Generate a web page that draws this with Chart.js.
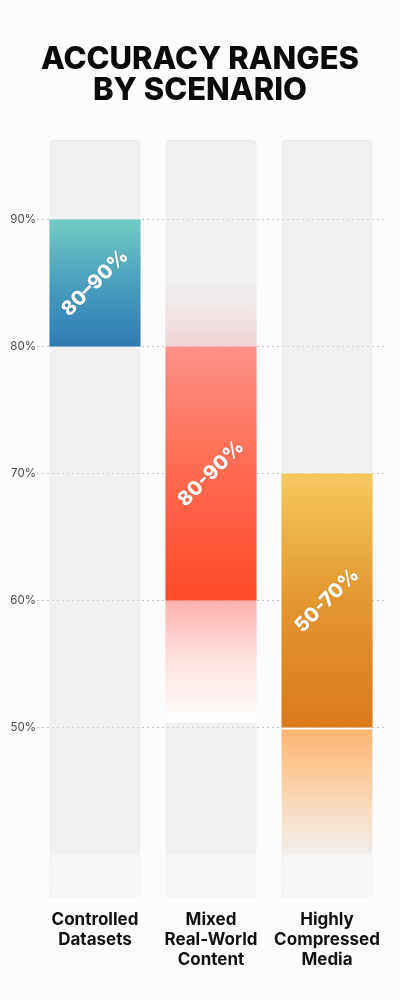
<!DOCTYPE html>
<html>
<head>
<meta charset="utf-8">
<script src="https://cdn.jsdelivr.net/npm/chart.js@4"></script>
<style>
  html, body { margin: 0; padding: 0; background: #fcfcfc; }
  #wrap { width: 400px; height: 1000px; position: relative; }
</style>
</head>
<body>
<div id="wrap"><canvas id="rangeChart"></canvas></div>
<script>
// Categories and values
const categories = [['Controlled', 'Datasets'], ['Mixed', 'Real-World', 'Content'], ['Highly', 'Compressed', 'Media']];
const rangeLow = [80, 60, 50];
const rangeHigh = [90, 80, 70];
const rangeLabels = ['80–90%', '80-90%', '50-70%'];
const upperFadeLow = [null, 80, null];
const upperFadeHigh = [null, 85, null];
const lowerFadeLow = [null, 50.4, 40];
const lowerFadeHigh = [null, 60, 50];
const yTicks = [50, 60, 70, 80, 90];
const yMin = 36.6;
const yMax = 96.25;
const floorTop = 40;

// Gradient stops per category (top -> bottom)
const mainColors = [
    ['#72cbc7', '#4a9fbd', '#2e7bb5'],
    ['#ff918a', '#ff6a4f', '#ff4a28'],
    ['#f5c960', '#e4962f', '#da7a1e']
];
const upperFadeColors = [null, ['rgba(238,208,208,0.1)', 'rgba(236,192,192,0.6)'], null];
const lowerFadeColors = [null, ['#ffb2ad', '#ffe2e0', '#ffffff'], ['#fdb46e', '#fbd3ad', '#f1efee']];
const lowerFadeGap = [0, 0, 2];

const FONT = 'Inter, "Noto Sans", sans-serif';

function gradientFor(stops) {
    return (ctx) => {
        const chart = ctx.chart;
        const colors = stops[ctx.dataIndex];
        const raw = ctx.raw;
        if (!chart.chartArea || !colors || !raw) return 'transparent';
        const y = chart.scales.y;
        const top = y.getPixelForValue(raw[1]);
        const bottom = y.getPixelForValue(raw[0]);
        const g = chart.ctx.createLinearGradient(0, top, 0, bottom);
        colors.forEach((c, i) => g.addColorStop(i / (colors.length - 1), c));
        return g;
    };
}

const pair = (lo, hi) => lo.map((v, i) => (v === null ? null : [v, hi[i]]));

const barShape = { grouped: false, categoryPercentage: 1, barPercentage: 0.785 };

// Rotated range labels drawn on the main bars
const rangeLabelPlugin = {
    id: 'rangeLabels',
    afterDatasetsDraw(chart) {
        const meta = chart.getDatasetMeta(0);
        const ctx = chart.ctx;
        meta.data.forEach((bar, i) => {
            const cy = (bar.y + bar.base) / 2;
            ctx.save();
            ctx.translate(bar.x, cy);
            ctx.rotate(-Math.PI / 4);
            ctx.font = '800 20px ' + FONT;
            ctx.fillStyle = '#ffffff';
            ctx.textAlign = 'center';
            ctx.textBaseline = 'middle';
            ctx.shadowColor = 'rgba(0,0,0,0.15)';
            ctx.shadowBlur = 2;
            ctx.fillText(rangeLabels[i], 0, 0);
            ctx.restore();
        });
    }
};

new Chart(document.getElementById('rangeChart'), {
    type: 'bar',
    data: {
        labels: categories,
        datasets: [
            {
                label: 'Accuracy range',
                data: pair(rangeLow, rangeHigh),
                backgroundColor: gradientFor(mainColors),
                borderWidth: 0,
                order: 1,
                ...barShape
            },
            {
                label: 'Upper fade',
                data: pair(upperFadeLow, upperFadeHigh),
                backgroundColor: gradientFor(upperFadeColors),
                borderWidth: 0,
                order: 2,
                ...barShape
            },
            {
                label: 'Lower fade',
                data: pair(lowerFadeLow, lowerFadeHigh),
                backgroundColor: gradientFor(lowerFadeColors),
                borderColor: '#ffffff',
                borderWidth: (ctx) => ({ top: lowerFadeGap[ctx.dataIndex], bottom: 0, left: 0, right: 0 }),
                borderSkipped: false,
                order: 3,
                ...barShape
            },
            {
                label: 'Floor',
                data: categories.map(() => [yMin, floorTop]),
                backgroundColor: '#f8f8f9',
                borderColor: '#ebebed',
                borderWidth: 1,
                borderSkipped: false,
                borderRadius: 4,
                order: 4,
                ...barShape
            },
            {
                label: 'Track',
                data: categories.map(() => [floorTop, yMax]),
                backgroundColor: 'rgba(226,228,231,0.45)',
                borderColor: '#e8e9eb',
                borderWidth: 1,
                borderSkipped: false,
                borderRadius: 4,
                order: 5,
                ...barShape
            }
        ]
    },
    options: {
        responsive: true,
        maintainAspectRatio: false,
        animation: false,
        layout: { padding: { left: 0, right: 0, top: 0, bottom: 26 } },
        plugins: {
            legend: { display: false },
            tooltip: { enabled: false },
            title: {
                display: true,
                text: ['ACCURACY RANGES', 'BY SCENARIO'],
                color: '#0a0a0a',
                font: { family: FONT, size: 31, weight: '800', lineHeight: 1.0 },
                padding: { top: 44, bottom: 34 }
            }
        },
        scales: {
            x: {
                grid: { display: false },
                border: { display: false },
                ticks: {
                    color: '#111111',
                    padding: 4,
                    maxRotation: 0,
                    font: { family: FONT, size: 17, weight: 'bold', lineHeight: 1.18 }
                }
            },
            y: {
                min: yMin,
                max: yMax,
                border: { display: false, dash: [2, 3] },
                afterBuildTicks: (scale) => { scale.ticks = yTicks.map(v => ({ value: v })); },
                afterFit: (scale) => { scale.width = 37; },
                grid: {
                    color: '#c4c4c4',
                    lineWidth: 1,
                    drawTicks: false
                },
                ticks: {
                    color: '#4a4a4a',
                    padding: 1,
                    font: { family: FONT, size: 11.5 },
                    callback: (v) => v + '%'
                }
            },
            // empty right axis only reserves the right margin
            yRight: {
                position: 'right',
                min: yMin,
                max: yMax,
                grid: { display: false, drawTicks: false },
                border: { display: false },
                ticks: { display: false },
                afterFit: (scale) => { scale.width = 15; }
            }
        }
    },
    plugins: [rangeLabelPlugin]
});
</script>
</body>
</html>
